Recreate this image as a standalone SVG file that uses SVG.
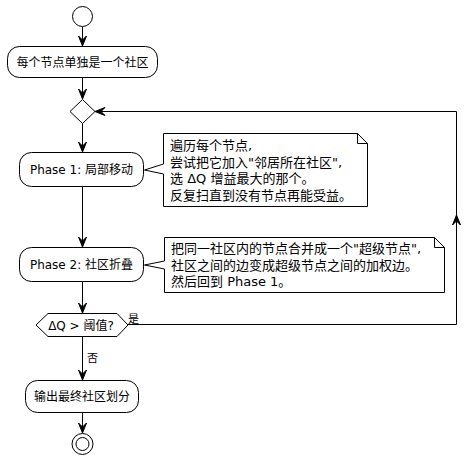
<svg xmlns="http://www.w3.org/2000/svg" width="476" height="461" viewBox="0 0 476 461">
<style>
  .shape { fill: #ffffff; stroke: #000000; stroke-width: 1; }
  .line { fill: none; stroke: #000000; stroke-width: 1; }
  .head { fill: #000000; stroke: #000000; stroke-width: 1; }
  text { font-family: "DejaVu Sans", "Noto Sans CJK SC", sans-serif; fill: #000000; }
  .lbl { font-size: 12px; text-anchor: middle; }
  .note { font-size: 13px; }
  .small { font-size: 11px; }
</style>
<rect width="476" height="461" fill="#ffffff"/>
<g id="connectors">
  <line class="line" x1="82.5" y1="27" x2="82.5" y2="45"/>
  <polygon class="head" points="82.5,46 78.5,36 82.5,40 86.5,36"/>
  <line class="line" x1="82.5" y1="78" x2="82.5" y2="98"/>
  <polygon class="head" points="82.5,99 78.5,89 82.5,93 86.5,89"/>
  <line class="line" x1="82.5" y1="123" x2="82.5" y2="151"/>
  <polygon class="head" points="82.5,152 78.5,142 82.5,146 86.5,142"/>
  <line class="line" x1="82.5" y1="187" x2="82.5" y2="246"/>
  <polygon class="head" points="82.5,247 78.5,237 82.5,241 86.5,237"/>
  <line class="line" x1="82.5" y1="282" x2="82.5" y2="312"/>
  <polygon class="head" points="82.5,313 78.5,303 82.5,307 86.5,303"/>
  <line class="line" x1="82.5" y1="337" x2="82.5" y2="379"/>
  <polygon class="head" points="82.5,380 78.5,370 82.5,374 86.5,370"/>
  <line class="line" x1="82.5" y1="413" x2="82.5" y2="432"/>
  <polygon class="head" points="82.5,433 78.5,423 82.5,427 86.5,423"/>
  <polyline class="line" points="128,324.5 456.5,324.5 456.5,111.5 96,111.5"/>
  <polygon class="head" points="456.5,215 452.5,225 456.5,221 460.5,225"/>
  <polygon class="head" points="95,111.5 105,107.5 101,111.5 105,115.5"/>
  <text class="small" x="128" y="323">是</text>
  <text class="small" x="87" y="362">否</text>
</g>
<g id="start">
  <circle class="shape" cx="82.5" cy="16.5" r="10"/>
</g>
<g id="init">
  <rect class="shape" x="7.5" y="46.5" width="150" height="31" rx="12" ry="12"/>
  <text class="lbl" x="82.5" y="66.5">每个节点单独是一个社区</text>
</g>
<g id="merge">
  <polygon class="shape" points="82.5,99.5 95,111.5 82.5,123.5 70,111.5"/>
</g>
<g id="phase1">
  <rect class="shape" x="19.5" y="152.5" width="124" height="34" rx="12" ry="12"/>
  <text class="lbl" x="81.5" y="174">Phase 1: 局部移动</text>
</g>
<g id="note1">
  <path class="shape" d="M163.5,133.5 H357.5 L367.5,143.5 V206.5 H163.5 V174 L144.5,170 L163.5,164 Z"/>
  <path class="line" d="M357.5,133.5 V143.5 H367.5"/>
  <text class="note" x="170" y="150">遍历每个节点,</text>
  <text class="note" x="170" y="166.5">尝试把它加入"邻居所在社区",</text>
  <text class="note" x="170" y="183">选 ΔQ 增益最大的那个。</text>
  <text class="note" x="170" y="199.5">反复扫直到没有节点再能受益。</text>
</g>
<g id="phase2">
  <rect class="shape" x="19.5" y="247.5" width="124" height="34" rx="12" ry="12"/>
  <text class="lbl" x="81.5" y="269">Phase 2: 社区折叠</text>
</g>
<g id="note2">
  <path class="shape" d="M164.5,237.5 H434.5 L444.5,247.5 V292.5 H164.5 V269 L144.5,265 L164.5,261 Z"/>
  <path class="line" d="M434.5,237.5 V247.5 H444.5"/>
  <text class="note" x="171" y="253">把同一社区内的节点合并成一个"超级节点",</text>
  <text class="note" x="171" y="269.5">社区之间的边变成超级节点之间的加权边。</text>
  <text class="note" x="171" y="286">然后回到 Phase 1。</text>
</g>
<g id="decision">
  <polygon class="shape" points="36,325 48,313.5 117,313.5 128,325 117,336.5 48,336.5"/>
  <text class="lbl" x="81" y="329.5">ΔQ &gt; 阈值?</text>
</g>
<g id="output">
  <rect class="shape" x="25.5" y="380.5" width="113" height="32" rx="12" ry="12"/>
  <text class="lbl" x="82" y="401">输出最终社区划分</text>
</g>
<g id="end">
  <circle class="shape" cx="82.5" cy="444" r="10.5"/>
  <circle class="shape" cx="82.5" cy="444" r="6.5"/>
</g>
</svg>
